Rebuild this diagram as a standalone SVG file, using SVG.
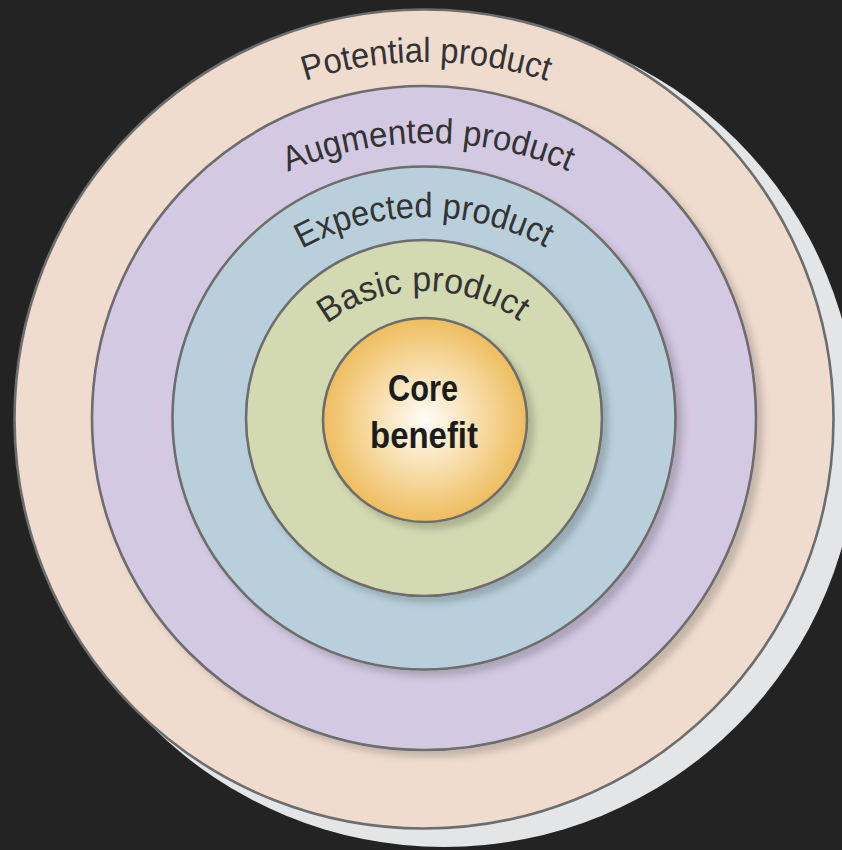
<svg xmlns="http://www.w3.org/2000/svg" width="842" height="850" viewBox="0 0 842 850">
  <defs>
    <style>
      .ring { stroke: #6d6d6d; stroke-width: 2.6; }
      .label { font-family: "Liberation Sans", Arial, sans-serif; font-size: 35px; fill: #333333; }
      .core-text { font-family: "Liberation Sans", Arial, sans-serif; font-weight: bold; font-size: 37px; fill: #1c1c1c; text-anchor: middle; }
    </style>
    <filter id="soft-shadow" x="-10%" y="-10%" width="125%" height="125%">
      <feDropShadow dx="6" dy="6" stdDeviation="3.5" flood-color="#000000" flood-opacity="0.18"/>
    </filter>
    <radialGradient id="core-fill" cx="50%" cy="50%" r="50%">
      <stop offset="0" stop-color="#fffdf8"/>
      <stop offset="0.45" stop-color="#f9e1b4"/>
      <stop offset="1" stop-color="#eebd5e"/>
    </radialGradient>
    <!-- baselines for the curved ring labels -->
    <path id="arc-potential" d="M 305 81 A 395 395 0 0 1 547 81"/>
    <path id="arc-augmented" d="M 288 172 A 357 357 0 0 1 570 172"/>
    <path id="arc-expected" d="M 302 249 A 254 254 0 0 1 548 249"/>
    <path id="arc-basic" d="M 327 324 A 162 162 0 0 1 523 324"/>
  </defs>

  <rect width="842" height="850" fill="#232323"/>

  <g id="potential-product">
    <circle cx="444" cy="433" r="414" fill="#e4e5e7"/>
    <circle class="ring" cx="424" cy="419" r="409.5" fill="#f0dccf"/>
    <text class="label"><textPath href="#arc-potential" textLength="246" lengthAdjust="spacingAndGlyphs">Potential product</textPath></text>
  </g>

  <g id="augmented-product">
    <circle class="ring" cx="424" cy="418" r="332" fill="#d4c9e3" filter="url(#soft-shadow)"/>
    <text class="label"><textPath href="#arc-augmented" textLength="288" lengthAdjust="spacingAndGlyphs">Augmented product</textPath></text>
  </g>

  <g id="expected-product">
    <circle class="ring" cx="424" cy="418" r="251.5" fill="#b9d0dc" filter="url(#soft-shadow)"/>
    <text class="label"><textPath href="#arc-expected" textLength="254" lengthAdjust="spacingAndGlyphs">Expected product</textPath></text>
  </g>

  <g id="basic-product">
    <circle class="ring" cx="424" cy="418" r="178" fill="#d3d9b1" filter="url(#soft-shadow)"/>
    <text class="label"><textPath href="#arc-basic" textLength="206" lengthAdjust="spacingAndGlyphs">Basic product</textPath></text>
  </g>

  <g id="core-benefit">
    <circle class="ring" cx="425" cy="420" r="102" fill="url(#core-fill)" filter="url(#soft-shadow)"/>
    <text class="core-text" x="423" y="401" textLength="70" lengthAdjust="spacingAndGlyphs">Core</text>
    <text class="core-text" x="424" y="448" textLength="108" lengthAdjust="spacingAndGlyphs">benefit</text>
  </g>
</svg>
